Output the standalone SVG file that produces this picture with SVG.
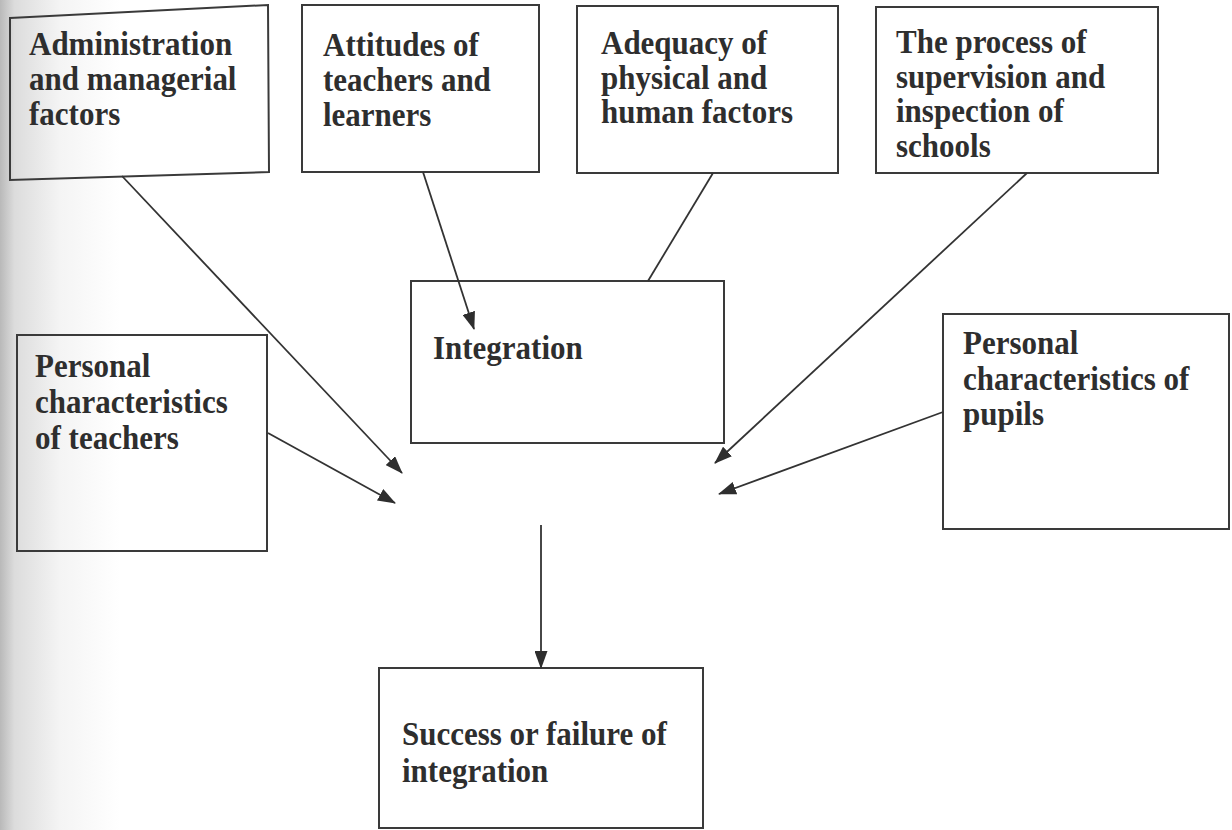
<svg xmlns="http://www.w3.org/2000/svg" width="1232" height="830" viewBox="0 0 1232 830">
<style>
.box{fill:none;stroke:#3a3a3a;stroke-width:2}
.lbl{font-family:"Liberation Serif","Times New Roman",serif;font-weight:bold;font-size:31px;fill:#2e2e2e}
.edge{fill:none;stroke:#333;stroke-width:1.8}
</style>
<defs>
<linearGradient id="bg" x1="0" y1="0" x2="1" y2="0">
<stop offset="0" stop-color="#b9b9b9"/>
<stop offset="0.12" stop-color="#dcdcdc"/>
<stop offset="0.5" stop-color="#f4f4f4"/>
<stop offset="1" stop-color="#ffffff"/>
</linearGradient>
<marker id="ah" viewBox="0 0 18 13" refX="17" refY="6.5" markerWidth="18" markerHeight="13" markerUnits="userSpaceOnUse" orient="auto">
<path d="M0,0 L18,6.5 L0,13 Z" fill="#2e2e2e"/>
</marker>
</defs>
<rect width="1232" height="830" fill="#fff"/>
<rect x="0" y="0" width="120" height="830" fill="url(#bg)"/>

<g id="admin">
<polygon class="box" points="10,18 268,5 269,172 10,180"/>
<text class="lbl" transform="translate(29,55) scale(1,1.1)"><tspan x="0" y="0">Administration</tspan><tspan x="0" dy="31.8">and managerial</tspan><tspan x="0" dy="31.8">factors</tspan></text>
</g>
<g id="attitudes">
<rect class="box" x="302" y="5" width="237" height="167"/>
<text class="lbl" transform="translate(323,56) scale(1,1.1)"><tspan x="0" y="0">Attitudes of</tspan><tspan x="0" dy="31.8">teachers and</tspan><tspan x="0" dy="31.8">learners</tspan></text>
</g>
<g id="adequacy">
<rect class="box" x="577" y="6" width="261" height="167"/>
<text class="lbl" transform="translate(601,54) scale(1,1.1)"><tspan x="0" y="0">Adequacy of</tspan><tspan x="0" dy="31.5">physical and</tspan><tspan x="0" dy="31.5">human factors</tspan></text>
</g>
<g id="supervision">
<rect class="box" x="876" y="7" width="282" height="166"/>
<text class="lbl" transform="translate(896,53) scale(1,1.1)"><tspan x="0" y="0">The process of</tspan><tspan x="0" dy="31.4">supervision and</tspan><tspan x="0" dy="31.4">inspection of</tspan><tspan x="0" dy="31.4">schools</tspan></text>
</g>
<g id="integration">
<rect class="box" x="411" y="281" width="313" height="162"/>
<text class="lbl" transform="translate(433,359) scale(1,1.1)">Integration</text>
</g>
<g id="teachers">
<rect class="box" x="17" y="335" width="250" height="216"/>
<text class="lbl" transform="translate(35,377) scale(1,1.1)"><tspan x="0" y="0">Personal</tspan><tspan x="0" dy="32.7">characteristics</tspan><tspan x="0" dy="32.7">of teachers</tspan></text>
</g>
<g id="pupils">
<rect class="box" x="943" y="314" width="286" height="215"/>
<text class="lbl" transform="translate(963,354) scale(1,1.1)"><tspan x="0" y="0">Personal</tspan><tspan x="0" dy="32.3">characteristics of</tspan><tspan x="0" dy="32.3">pupils</tspan></text>
</g>
<g id="success">
<rect class="box" x="379" y="668" width="324" height="160"/>
<text class="lbl" transform="translate(402,745) scale(1,1.1)"><tspan x="0" y="0">Success or failure of</tspan><tspan x="0" dy="33.6">integration</tspan></text>
</g>

<g id="connectors">
<line class="edge" x1="122" y1="176" x2="402" y2="473" marker-end="url(#ah)"/>
<line class="edge" x1="423" y1="172" x2="474" y2="329" marker-end="url(#ah)"/>
<line class="edge" x1="713" y1="173" x2="648" y2="281"/>
<line class="edge" x1="1027" y1="173" x2="715" y2="463" marker-end="url(#ah)"/>
<line class="edge" x1="268" y1="433" x2="395" y2="503" marker-end="url(#ah)"/>
<line class="edge" x1="943" y1="412" x2="719" y2="494" marker-end="url(#ah)"/>
<line class="edge" x1="541" y1="525" x2="541" y2="668" marker-end="url(#ah)"/>
</g>
</svg>
